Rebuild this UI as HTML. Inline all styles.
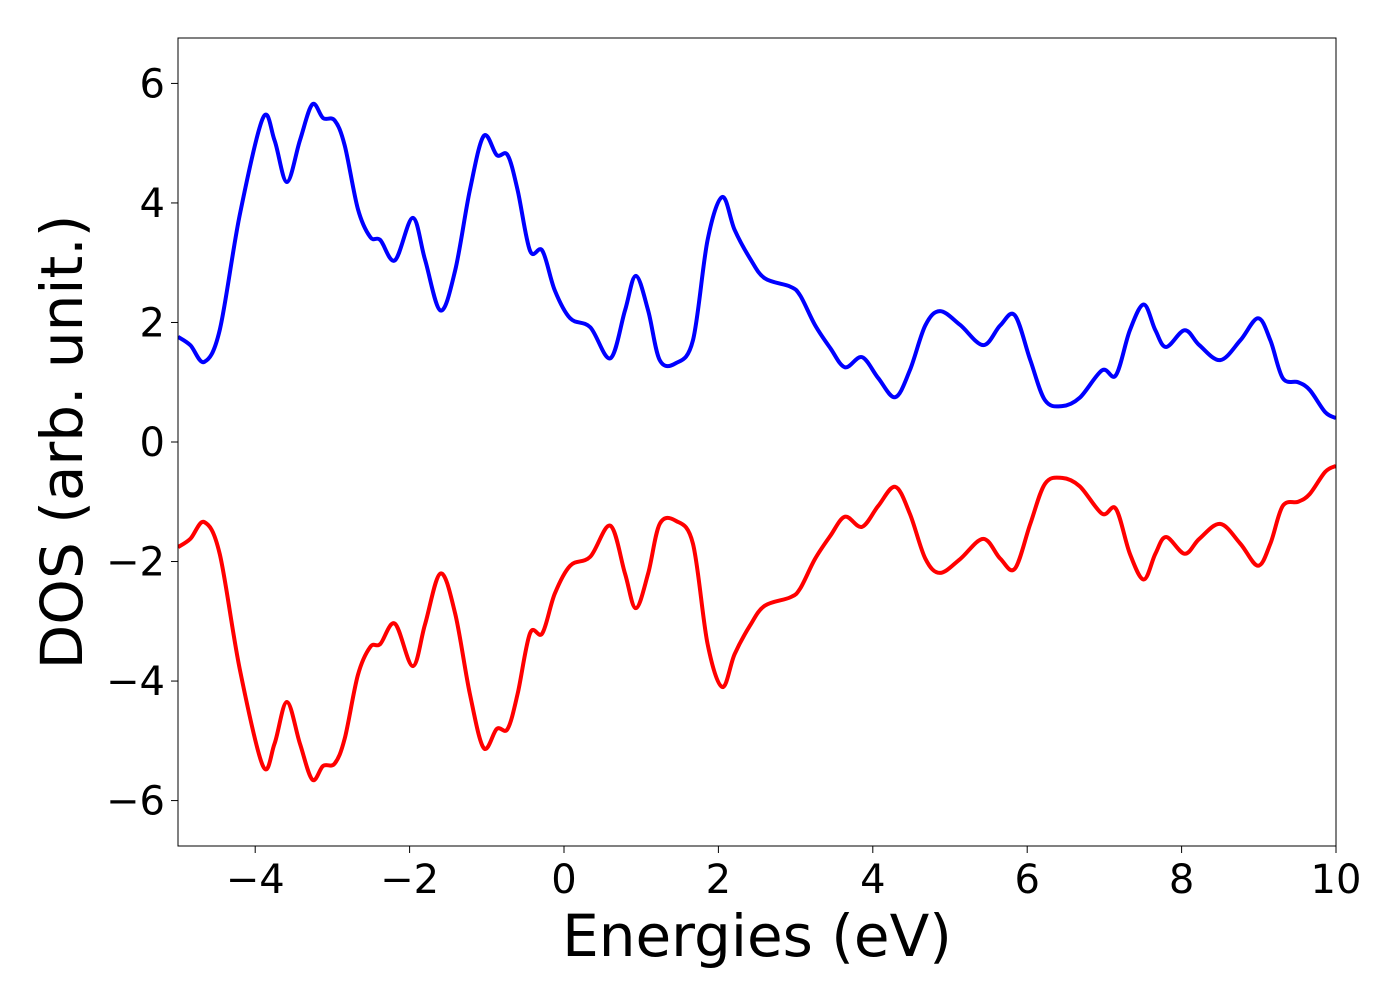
<!DOCTYPE html>
<html><head><meta charset="utf-8"><style>
body{margin:0;background:#fff;}
svg{display:block;font-family:"DejaVu Sans","Liberation Sans",sans-serif;}
</style></head><body>
<svg id="chart" width="1400" height="1000" viewBox="0 0 1400 1000" xmlns="http://www.w3.org/2000/svg">
<rect x="0" y="0" width="1400" height="1000" fill="#fff"/>
<g id="plot"></g>
<g id="axes"></g>
<text x="757" y="956" font-size="58" text-anchor="middle">Energies (eV)</text>
<text transform="translate(82,442) rotate(-90)" font-size="58" text-anchor="middle">DOS (arb. unit.)</text>
</svg>
<script>
const energies = [-5,-4.84,-4.66,-4.46,-4.2,-3.9,-3.75,-3.59,-3.42,-3.26,-3.12,-2.97,-2.84,-2.67,-2.51,-2.38,-2.19,-1.96,-1.8,-1.6,-1.41,-1.22,-1.04,-0.87,-0.73,-0.6,-0.44,-0.28,-0.12,0.08,0.34,0.6,0.79,0.93,1.09,1.24,1.45,1.67,1.86,2.05,2.21,2.41,2.6,2.93,3.06,3.25,3.45,3.64,3.86,4.07,4.29,4.48,4.68,4.87,5.13,5.43,5.65,5.84,6.04,6.23,6.45,6.68,6.97,7.15,7.33,7.51,7.66,7.8,8.04,8.23,8.5,8.76,8.99,9.15,9.31,9.51,9.66,9.86,10];
const dosUp = [1.76,1.62,1.34,1.87,3.8,5.42,5.05,4.35,5.05,5.65,5.42,5.38,4.96,3.9,3.43,3.38,3.04,3.75,3.05,2.2,2.87,4.21,5.12,4.8,4.8,4.21,3.2,3.2,2.54,2.07,1.92,1.4,2.2,2.78,2.2,1.37,1.32,1.7,3.38,4.1,3.55,3.07,2.74,2.6,2.45,1.96,1.57,1.25,1.42,1.07,0.75,1.2,1.95,2.19,1.96,1.62,1.95,2.12,1.37,0.7,0.6,0.74,1.2,1.12,1.87,2.3,1.87,1.59,1.87,1.62,1.37,1.7,2.07,1.7,1.07,1.0,0.87,0.5,0.4];
const dosDown = dosUp.map(v => -v);
const xTicks = [-4,-2,0,2,4,6,8,10];
const yTicks = [-6,-4,-2,0,2,4,6];
const xLabels = ["\u22124","\u22122","0","2","4","6","8","10"];
const yLabels = ["\u22126","\u22124","\u22122","0","2","4","6"];

const L=178,R=1336,T=38,B=846;
const xmin=-5,xmax=10,ymin=-6.76,ymax=6.76;
const sx=v=>L+(v-xmin)/(xmax-xmin)*(R-L);
const sy=v=>B-(v-ymin)/(ymax-ymin)*(B-T);
const NS="http://www.w3.org/2000/svg";
const plot=document.getElementById('plot'), axes=document.getElementById('axes');

function smoothPath(xs,ys){
  const p=xs.map((x,i)=>[sx(x),sy(ys[i])]);
  let d=`M${p[0][0]},${p[0][1]}`;
  for(let i=0;i<p.length-1;i++){
    const p0=p[Math.max(0,i-1)],p1=p[i],p2=p[i+1],p3=p[Math.min(p.length-1,i+2)];
    const c1=[p1[0]+(p2[0]-p0[0])/6,p1[1]+(p2[1]-p0[1])/6];
    const c2=[p2[0]-(p3[0]-p1[0])/6,p2[1]-(p3[1]-p1[1])/6];
    d+=` C${c1[0]},${c1[1]} ${c2[0]},${c2[1]} ${p2[0]},${p2[1]}`;
  }
  return d;
}
const cp=document.createElementNS(NS,'clipPath');cp.id='clip';
const cr=document.createElementNS(NS,'rect');cr.setAttribute('x',L);cr.setAttribute('y',T);cr.setAttribute('width',R-L);cr.setAttribute('height',B-T);
cp.appendChild(cr);plot.appendChild(cp);
[[dosUp,'#0000ff','spin-up-line'],[dosDown,'#ff0000','spin-down-line']].forEach(([ys,c,n])=>{
  const path=document.createElementNS(NS,'path');
  path.setAttribute('d',smoothPath(energies,ys));
  path.setAttribute('fill','none');path.setAttribute('stroke',c);path.setAttribute('stroke-width','4');
  path.setAttribute('clip-path','url(#clip)');
  
  
  plot.appendChild(path);
});
const frame=document.createElementNS(NS,'rect');
frame.setAttribute('x',L);frame.setAttribute('y',T);frame.setAttribute('width',R-L);frame.setAttribute('height',B-T);
frame.setAttribute('fill','none');frame.setAttribute('stroke','#000');frame.setAttribute('stroke-width','1');


axes.appendChild(frame);
xTicks.forEach((v,i)=>{
  const ln=document.createElementNS(NS,'line');
  ln.setAttribute('x1',sx(v));ln.setAttribute('x2',sx(v));ln.setAttribute('y1',B);ln.setAttribute('y2',B+7);ln.setAttribute('stroke','#000');
  
  
  axes.appendChild(ln);
  const t=document.createElementNS(NS,'text');
  t.setAttribute('x',sx(v));t.setAttribute('y',893);t.setAttribute('font-size','40');t.setAttribute('text-anchor','middle');
  t.textContent=xLabels[i];
  
  
  axes.appendChild(t);
});
yTicks.forEach((v,i)=>{
  const ln=document.createElementNS(NS,'line');
  ln.setAttribute('x1',L-7);ln.setAttribute('x2',L);ln.setAttribute('y1',sy(v));ln.setAttribute('y2',sy(v));ln.setAttribute('stroke','#000');
  
  
  axes.appendChild(ln);
  const t=document.createElementNS(NS,'text');
  t.setAttribute('x',L-13);t.setAttribute('y',sy(v)+14);t.setAttribute('font-size','40');t.setAttribute('text-anchor','end');
  t.textContent=yLabels[i];
  
  
  axes.appendChild(t);
});
</script>
</body></html>
